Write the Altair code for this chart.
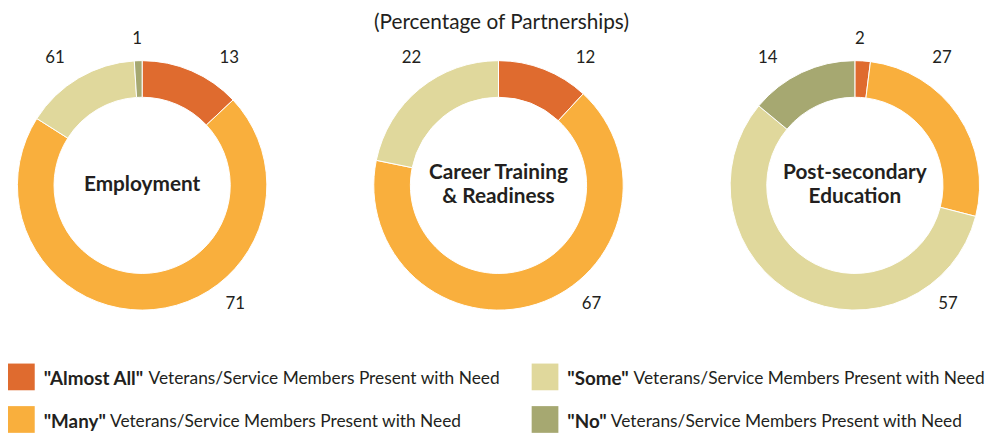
import math
import altair as alt
import pandas as pd

# ---------------- data ----------------
categories = ["Almost All", "Many", "Some", "No"]
colors = ["#DF6B2F", "#F9AF3D", "#E0D89C", "#A6A871"]

panel_titles = ["Employment", "Career Training\n& Readiness", "Post-secondary\nEducation"]

# slice sizes (as drawn) and printed labels (as printed)
employment_values = [13, 71, 15, 1]
employment_labels = ["13", "71", "61", "1"]
career_values = [12, 67, 22, 0]
career_labels = ["12", "67", "22", ""]
postsec_values = [2, 27, 57, 14]
postsec_labels = ["2", "27", "57", "14"]

subtitle = "(Percentage of Partnerships)"
legend_rest = "Veterans/Service Members Present with Need"

# ---------------- style / layout ----------------
FONT = "Lato"
TXT = "#231F20"
W, H = 270, 320
CX, CY = 135.5, 177
R_IN, R_OUT = 89, 126
LINE_H = 24


def label_table(values, labels):
    total = sum(values)
    cum = 0.0
    rows = []
    for v, lab in zip(values, labels):
        mid = (cum + v / 2) / total * 360
        cum += v
        if v == 0 or lab == "":
            continue
        s = math.sin(math.radians(mid))
        if mid < 12 or mid > 348:          # tiny slice at the top
            dx, dy = (5 if s >= 0 else -5), -148
        elif 90 <= mid <= 270:              # lower half -> lower right
            dx, dy = 94, 120
        elif mid < 90:                      # upper right
            dx, dy = 88, -129
        else:                               # upper left
            dx, dy = -88, -129
        rows.append({"label": lab, "lx": CX + dx, "ly": CY + dy})
    return pd.DataFrame(rows)


def panel(title, values, labels, with_subtitle=False):
    df = pd.DataFrame({
        "category": categories,
        "idx": list(range(len(categories))),
        "value": values,
    })
    df = df[df["value"] > 0]
    arc = alt.Chart(df).mark_arc(
        innerRadius=R_IN, outerRadius=R_OUT, stroke="white", strokeWidth=1
    ).encode(
        theta=alt.Theta("value:Q", stack=True),
        color=alt.Color("category:N", scale=alt.Scale(domain=categories, range=colors), legend=None),
        order=alt.Order("idx:Q"),
        x=alt.value(CX),
        y=alt.value(CY),
    )
    n_lines = title.count("\n") + 1
    center = alt.Chart(pd.DataFrame({"t": [title]})).mark_text(
        font=FONT, fontSize=21, fontWeight="bold", color=TXT,
        lineBreak="\n", lineHeight=LINE_H, align="center", baseline="middle",
    ).encode(x=alt.value(CX), y=alt.value(CY - (n_lines - 1) * LINE_H / 2), text="t:N")
    lab = alt.Chart(label_table(values, labels)).mark_text(
        font=FONT, fontSize=17, color=TXT, align="center", baseline="middle"
    ).encode(
        x=alt.X("lx:Q", scale=alt.Scale(domain=[0, W], range=[0, W]), axis=None),
        y=alt.Y("ly:Q", scale=alt.Scale(domain=[0, H], range=[0, H]), axis=None),
        text="label:N",
    )
    layers = [arc, center, lab]
    if with_subtitle:
        sub = alt.Chart(pd.DataFrame({"t": [subtitle]})).mark_text(
            font=FONT, fontSize=21, color=TXT, align="center", baseline="middle"
        ).encode(x=alt.value(CX + 3), y=alt.value(13.5), text="t:N")
        layers.append(sub)
    return alt.layer(*layers).properties(width=W, height=H)


panels = alt.hconcat(
    panel(panel_titles[0], employment_values, employment_labels),
    panel(panel_titles[1], career_values, career_labels, with_subtitle=True),
    panel(panel_titles[2], postsec_values, postsec_labels),
    spacing=90,
)


def legend_item(cat, color):
    sq = alt.Chart(pd.DataFrame({"c": [cat]})).mark_rect(color=color).encode(
        x=alt.value(0), x2=alt.value(27), y=alt.value(0), y2=alt.value(27)
    ).properties(width=32, height=27)
    bold = alt.Chart(pd.DataFrame({"t": ['"' + cat + '"']})).mark_text(
        font=FONT, fontSize=19, fontWeight="bold", color=TXT, align="left", baseline="middle"
    ).encode(x=alt.value(0), y=alt.value(16), text="t:N").properties(width=1, height=27)
    rest = alt.Chart(pd.DataFrame({"t": [legend_rest]})).mark_text(
        font=FONT, fontSize=17.5, color=TXT, align="left", baseline="middle"
    ).encode(x=alt.value(0), y=alt.value(16), text="t:N").properties(width=1, height=27)
    return alt.hconcat(sq, bold, rest, spacing=4)


col1 = alt.vconcat(legend_item(categories[0], colors[0]), legend_item(categories[1], colors[1]), spacing=16)
col2 = alt.vconcat(legend_item(categories[2], colors[2]), legend_item(categories[3], colors[3]), spacing=16)
legend = alt.hconcat(col1, col2, spacing=31)

chart = alt.vconcat(panels, legend, spacing=37).properties(padding=0).configure_view(strokeWidth=0)

chart.save("out.html", embed_options={"renderer": "svg", "actions": False})
